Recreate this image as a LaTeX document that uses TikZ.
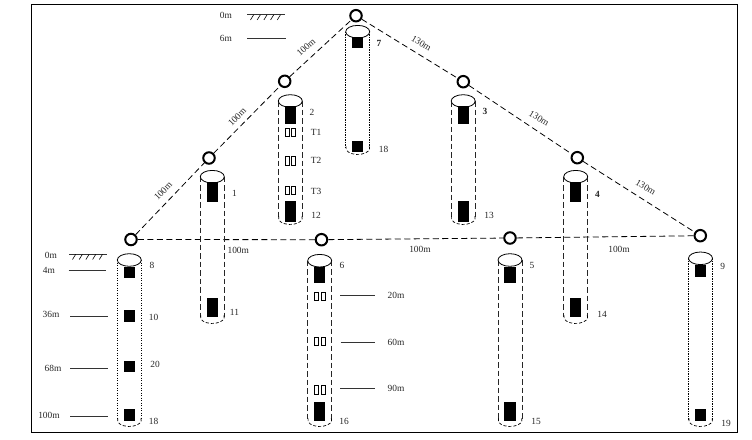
\documentclass[tikz,border=0pt]{standalone}
\usepackage{fontspec}
\setmainfont{Liberation Serif}
\usetikzlibrary{positioning}
\tikzset{
  tag/.style={font=\fontsize{9.4}{11}\selectfont,inner sep=0pt,text=black!85},
  tagbold/.style={tag,font=\fontsize{9.4}{11}\selectfont\bfseries},
  station/.style={circle,draw=black,line width=2pt,fill=white,minimum size=11.5pt,inner sep=0pt},
  survey/.style={line width=0.8pt,dash pattern=on 6pt off 3.5pt},
  wallcut/.style={line width=0.8pt,dash pattern=on 5.5pt off 3pt,draw=black!85},
  walldot/.style={line width=1.1pt,dash pattern=on 1.3pt off 1.2pt},
  leader/.style={line width=0.8pt,draw=black!80}
}
\begin{document}
\begin{tikzpicture}[x=1pt,y=-1pt]
        \useasboundingbox (0,0) rectangle (752,439);
        \draw[line width=0.9pt] (31.4,4.6) rectangle (737.7,432.8);
        \foreach \s/\x/\y in {a/131/239.5,b/209/158,c/284.7/81.3,d/356/15.7,e/463.3/81.7,
            f/577.3/157.7,g/700.3/235.7,h/510/238,i/321.5/239.7}
          \node[station] (st\s) at (\x,\y) {};
        \foreach \p/\q in {a/b,b/c,c/d,d/e,e/f,f/g,a/i,i/h,h/g}
          \draw[survey] (st\p) -- (st\q);
        \foreach \c/\t/\b/\w in {212.3/176.7/317/wallcut,290.3/101/218/wallcut,357.7/31.7/148/walldot,
            463.2/101/218/wallcut,575.7/176.7/317/wallcut,129.3/260/420/walldot,
            319.7/260.7/420/wallcut,510/260/420/wallcut,700.5/258.3/420/walldot}
          {
            \draw[\w] (\c-12,\t) -- (\c-12,\b);
            \draw[\w] (\c+12,\t) -- (\c+12,\b);
            \draw[line width=0.7pt,dash pattern=on 3pt off 2pt] (\c,\b) ++(-15:12 and 6.5)
              arc[start angle=-15,end angle=195,x radius=12,y radius=6.5];
            \draw[line width=0.8pt,fill=white] (\c,\t) ellipse (12 and 6.3);
          }
        \foreach \c/\a/\z in {212.3/182/201.7,212.3/298/317,290.3/106/124,290.3/201/221.7,
            357.7/36.5/48.3,357.7/140.7/152.3,463.2/106/124,463.2/201/221.7,
            575.7/182/201.7,575.7/298/317,129.3/266.7/278.3,129.3/310.3/321.7,
            129.3/360.7/372.3,129.3/409.3/421,319.7/266.7/283.3,319.7/402.3/421,
            510/266.7/283.3,510/402.3/421,700.5/265/276.7,700.5/409.3/421}
          \fill (\c-5.6,\a) rectangle (\c+5.6,\z);
        \foreach \c/\a in {290.3/128,290.3/156.5,290.3/186,319.7/292,319.7/337,319.7/385.7}
          {
            \draw[line width=0.8pt] (\c-5.3,\a) rectangle (\c-1.3,\a+8.8);
            \draw[line width=0.8pt] (\c+1.3,\a) rectangle (\c+5.3,\a+8.8);
          }
        \foreach \x/\y/\e in {247/14.7/285,69/254.3/106.7}
          {
            \draw[leader,line width=0.9pt] (\x,\y) -- (\e,\y);
            \foreach \k in {1,...,5}
              \draw[line width=0.6pt] (\x+\k*6.7,\y) -- ++(-3.2,5.2);
          }
        \foreach \x/\y/\e in {247.3/38/285.5,68.5/270.7/106,70.3/316/108,70.3/368/108,
            70.3/416.7/108,340/295.7/375,340.7/342/375,340/388.7/375}
          \draw[leader] (\x,\y) -- (\e,\y);
        \foreach \s/\x/\y/\t in {d0/226/15.5/0m,d6/226/38/6m,g0/51/255/0m,g4/49/270.5/4m,g36/51/314/36m,
            g68/53/368/68m,g100/49/415/100m,r20/396/295/20m,r60/396/342/60m,r90/396/388.7/90m,
            b1/234.5/193/1,b2/312/112.5/2,b5/532/265/5,b6/342/265/6,b8/152/265/8,b9/722.7/266/9,
            b10/153.5/317/10,b11/234.5/312/11,b12/316/215/12,b13/489/215/13,b14/602/314/14,
            b15/536/421.5/15,b16/344/421.5/16,b18a/383.5/149/18,b18b/153.5/421.5/18,b19/726/423/19,
            b20/155/364/20,t1/316/132/T1,t2/316/160/T2,t3/316/191/T3,
            h1/238.3/250.3/100m,h2/420/249.3/100m,h3/619/249.3/100m}
          \node[tag] (lb\s) at (\x,\y) {\t};
        \foreach \s/\x/\y in {3/485/111,4/597.5/194,7/379/43}
          \node[tagbold] (lb\s) at (\x,\y) {\s};
        \foreach \s/\x/\y/\r/\t in {l1/163/191/46/100m,l2/237/117/46/100m,l3/306/47.3/42/100m,
            k1/421.3/43.3/-31/130m,k2/539/118.3/-31/130m,k3/645.7/187.3/-31/130m}
          \node[tag,rotate=\r] (lb\s) at (\x,\y) {\t};
      \end{tikzpicture}
\end{document}
